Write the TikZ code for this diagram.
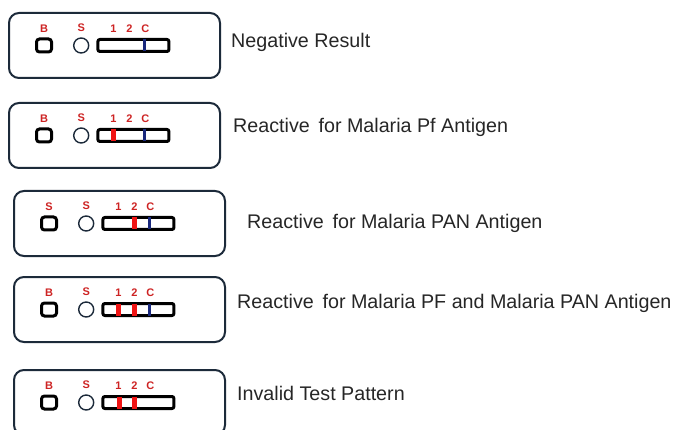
\documentclass[tikz,border=0pt]{standalone}
\usepackage{fontspec}
\setmainfont{Liberation Sans}
\usetikzlibrary{positioning}
\definecolor{framecol}{RGB}{28,42,58}
\definecolor{tagred}{RGB}{205,35,35}
\definecolor{testred}{RGB}{240,20,20}
\definecolor{ctrlblue}{RGB}{25,40,125}
\tikzstyle{panel}=[draw=framecol,line width=2pt,rounded corners=10pt,minimum width=211pt,minimum height=65pt,inner sep=0pt]
\tikzstyle{bufferbox}=[draw=black,line width=3pt,rounded corners=3pt,minimum width=15pt,minimum height=13pt,inner sep=0pt]
\tikzstyle{samplewell}=[circle,draw=framecol,line width=1.4pt,minimum size=15pt,inner sep=0pt]
\tikzstyle{strip}=[draw=black,line width=3pt,rounded corners=2pt,minimum width=71pt,minimum height=12pt,inner sep=0pt]
\tikzstyle{tag}=[font=\fontsize{11}{11}\selectfont\bfseries,text=tagred,inner sep=0pt]
\tikzstyle{testline}=[draw=testred,line width=4.5pt,shorten <=1.5pt,shorten >=1.5pt]
\tikzstyle{ctrlline}=[draw=ctrlblue,line width=2.8pt,shorten <=1.5pt,shorten >=1.5pt]
\tikzstyle{result}=[font=\fontsize{19.7}{22}\selectfont,text=black!85,anchor=west,inner sep=0pt]

\begin{document}
\begin{tikzpicture}[x=1pt,y=-1pt]

    \useasboundingbox (0,0) rectangle (674,430);

    % the five cassettes
    \foreach \i/\x/\y/\blab in {1/8/12/B, 2/8/102/B, 3/13/190/S, 4/13/276/B, 5/13/369/B} {
        \node[panel, anchor=north west] (p\i) at (\x,\y) {};
        \node[bufferbox, right=27pt of p\i.west] (b\i) {};
        \node[samplewell, right=20pt of b\i] (w\i) {};
        \node[strip, right=7pt of w\i] (s\i) {};
        \node[tag, above=5pt of b\i] (bl\i) {\blab};
        \node[tag, above=5pt of w\i] (sl\i) {S};
        \node[tag, above=5pt of s\i.north west, xshift=17pt] (one\i) {1};
        \node[tag, above=5pt of s\i.north west, xshift=33pt] (two\i) {2};
        \node[tag, above=5pt of s\i.north west, xshift=49pt] (c\i) {C};
    }

    % test lines
    \foreach \i/\off in {2/17, 3/33, 4/17, 4/33, 5/18, 5/33}
        \draw[testline] ([xshift=\off pt]s\i.north west) -- ([xshift=\off pt]s\i.south west);

    % control lines
    \foreach \i in {1,...,4}
        \draw[ctrlline] ([xshift=48pt]s\i.north west) -- ([xshift=48pt]s\i.south west);

    \node[result] (r1) at (231,42) {Negative Result};
    \node[result] (r2) at (233,127) {Reactive\, for Malaria Pf Antigen};
    \node[result] (r3) at (247,223) {Reactive\, for Malaria PAN Antigen};
    \node[result] (r4) at (237,303) {Reactive\, for Malaria PF and Malaria PAN Antigen};
    \node[result] (r5) at (237,393) {Invalid Test Pattern};

\end{tikzpicture}
\end{document}
